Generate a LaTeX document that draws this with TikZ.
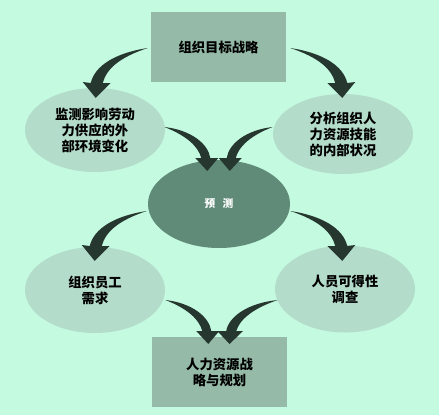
\documentclass[tikz,border=0pt]{standalone}
\usepackage{fontspec}
\newfontfamily\cjk{Noto Sans CJK SC}
\usetikzlibrary{calc,shapes.geometric}
\definecolor{bgc}{HTML}{C4FAE0}
\definecolor{rectc}{HTML}{95BBA8}
\definecolor{ellc}{HTML}{B4DCCB}
\definecolor{predc}{HTML}{5F8B78}
\definecolor{arrc}{HTML}{26372F}
\tikzset{
  boxnode/.style={rectangle, fill=rectc, minimum width=135*0.75pt, minimum height=70*0.75pt,
    inner sep=0pt, align=center, font=\cjk\bfseries\fontsize{10pt}{12pt}\selectfont},
  ellnode/.style={ellipse, fill=ellc, minimum width=140*0.75pt, minimum height=84*0.75pt,
    inner sep=0pt, align=center, font=\cjk\bfseries\fontsize{10pt}{12pt}\selectfont},
  prednode/.style={ellipse, fill=predc, minimum width=142*0.75pt, minimum height=88*0.75pt,
    inner sep=0pt, align=center, text=white, font=\cjk\bfseries\fontsize{8pt}{10pt}\selectfont},
  arrA/.pic={\fill[arrc] (0,0) .. controls (-33,5) and (-53,18) .. (-57,35)
      -- (-65,34) -- (-52,50) -- (-37,35) -- (-45,35)
      .. controls (-41,20) and (-27,9) .. (0,0) -- cycle;},
  arrB/.pic={\fill[arrc] (0,0) .. controls (27,3) and (44,17) .. (46,31)
      -- (54,31) -- (43,44) -- (31,31) -- (37,31)
      .. controls (34,19) and (21,8) .. (0,0) -- cycle;}
}
\begin{document}
\begin{tikzpicture}[x=0.75pt,y=-0.75pt]
\fill[bgc] (0,0) rectangle (439,415);
\useasboundingbox (0,0) rectangle (439,415);
\node[boxnode] (top) at (218.5,47) {组织目标战略};
\node[ellnode] (L) at (95,130) {监测影响劳动\\力供应的外\\部环境变化};
\node[ellnode, minimum height=80*0.75pt] (R) at (343,134) {分析组织人\\力资源技能\\的内部状况};
\node[prednode] (P) at (219,204) {预\hspace{0.7em}测};
\node[ellnode, minimum height=86*0.75pt] (LL) at (95,290) {组织员工\\需求};
\node[ellnode, minimum height=87*0.75pt] (LR) at (345,289) {人员可得性\\调查};
\node[boxnode] (bot) at (219.5,372) {人力资源战\\略与规划};
\pic at ($(top.west)+(-3,1)$) {arrA};
\pic[xscale=-1] at ($(top.east)+(4,1)$) {arrA};
\pic at ($(L.east)+(-1,-3)$) {arrB};
\pic[xscale=-1] at ($(R.west)+(0,-7)$) {arrB};
\pic at ($(P.west)+(-1,7)$) {arrA};
\pic[xscale=-1] at ($(P.east)+(0,7)$) {arrA};
\pic at ($(LL.east)+(0,10)$) {arrB};
\pic[xscale=-1.12] at ($(LR.west)+(3,11)$) {arrB};
\end{tikzpicture}
\end{document}
